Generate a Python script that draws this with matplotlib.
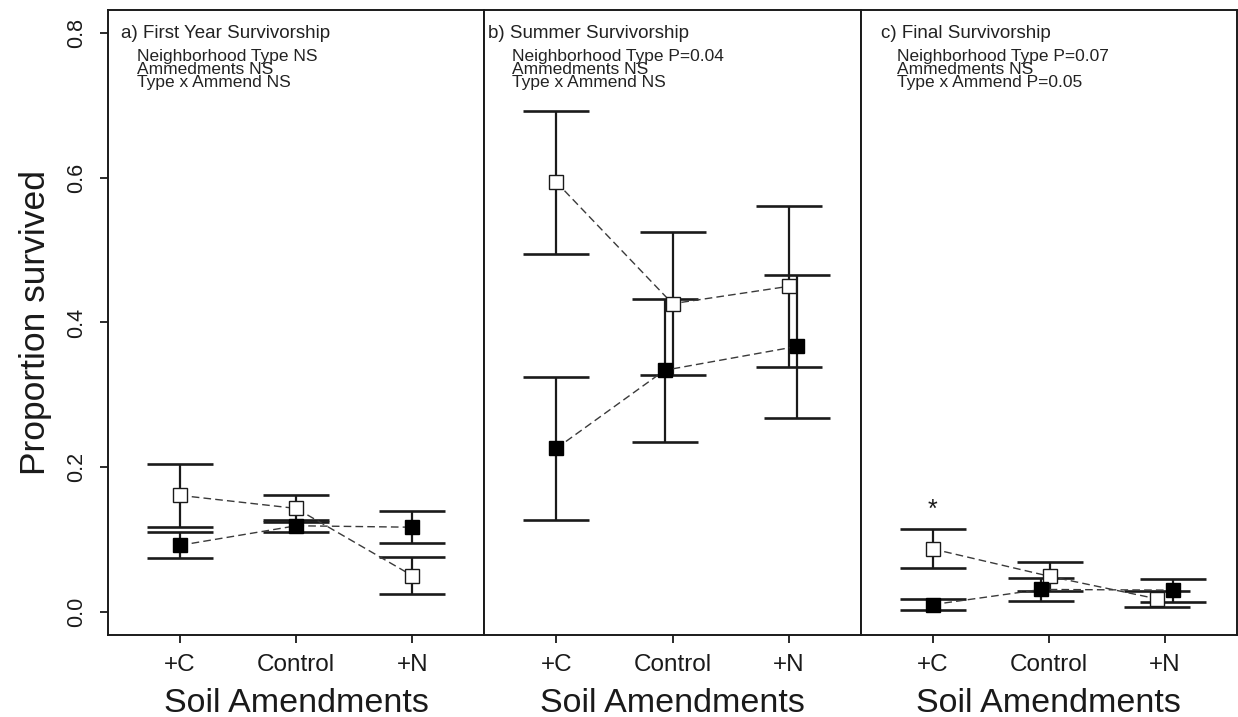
import matplotlib
matplotlib.use("Agg")
import matplotlib.pyplot as plt
import numpy as np

plt.rcParams["font.family"] = ["Liberation Sans", "DejaVu Sans"]

# ---- data -------------------------------------------------------------
amendments = ["+C", "Control", "+N"]
panel_titles = ["a) First Year Survivorship",
                "b) Summer Survivorship",
                "c) Final Survivorship"]
stats_lines = [
    ["Neighborhood Type NS", "Ammedments NS", "Type x Ammend NS"],
    ["Neighborhood Type P=0.04", "Ammedments NS", "Type x Ammend NS"],
    ["Neighborhood Type P=0.07", "Ammedments NS", "Type x Ammend P=0.05"],
]

# mean proportion survived and its standard error, per neighbourhood type
hollow_first = [0.161, 0.143, 0.050]
hollow_first_se = [0.044, 0.019, 0.026]
solid_first = [0.092, 0.119, 0.117]
solid_first_se = [0.018, 0.008, 0.022]

hollow_summer = [0.594, 0.426, 0.450]
hollow_summer_se = [0.099, 0.099, 0.111]
solid_summer = [0.226, 0.334, 0.367]
solid_summer_se = [0.099, 0.099, 0.099]

hollow_final = [0.087, 0.049, 0.018]
hollow_final_se = [0.027, 0.020, 0.011]
solid_final = [0.010, 0.031, 0.030]
solid_final_se = [0.008, 0.016, 0.016]

significant_final = [True, False, False]

# ---- layout ---------------------------------------------------------------
# horizontal nudges so overlapping error bars stay readable
hollow_nudge = [[0, 0, 0], [0, 0, 0], [0, 0.01, -0.07]]
solid_nudge = [[0, 0, 0], [0, -0.067, 0.073], [0, -0.067, 0.073]]
# text placement (pixels from the panel's left edge / figure top)
title_x = [12.7, 4.0, 20.7]
stats_x = [28.5, 28.0, 36.0]
title_y = 33
stats_y = [56, 70, 83]

W, H = 1238, 717
fig = plt.figure(figsize=(W / 100, H / 100), dpi=100)
left_px, right_px, top_px, bottom_px = 108, 1237, 10, 635
panel_w = (right_px - left_px) / 3
panel_h = bottom_px - top_px

ink = "#1a1a1a"
panels = [
    (hollow_first, hollow_first_se, solid_first, solid_first_se),
    (hollow_summer, hollow_summer_se, solid_summer, solid_summer_se),
    (hollow_final, hollow_final_se, solid_final, solid_final_se),
]

x = np.arange(1, len(amendments) + 1)
axes = []
for i, (hv, hse, sv, sse) in enumerate(panels):
    ax = fig.add_axes([(left_px + i * panel_w) / W, 1 - bottom_px / H,
                       panel_w / W, panel_h / H])
    axes.append(ax)
    xh = x + np.array(hollow_nudge[i])
    xs = x + np.array(solid_nudge[i])

    for xx, vv, ee in ((xh, hv, hse), (xs, sv, sse)):
        ax.errorbar(xx, vv, yerr=ee, fmt="none", ecolor=ink,
                    elinewidth=1.6, capsize=23.5, capthick=1.9, zorder=2)
    ax.plot(xh, hv, ls=(0, (5.5, 3)), color="#3a3a3a", lw=1.0, zorder=3)
    ax.plot(xs, sv, ls=(0, (5.5, 3)), color="#3a3a3a", lw=1.0, zorder=3)
    ax.plot(xh, hv, ls="none", marker="s", ms=10.5, mfc="white",
            mec=ink, mew=1.0, zorder=4)
    ax.plot(xs, sv, ls="none", marker="s", ms=10.5, mfc="black",
            mec="black", mew=1.0, zorder=4)

    ax.set_xlim(0.38, 3.62)
    ax.set_ylim(-0.032, 0.832)
    ax.set_xticks(x)
    ax.set_xticklabels(amendments, fontsize=17.5, color=ink)
    ax.tick_params(axis="x", direction="out", length=6, width=1.3,
                   pad=8, colors=ink)
    ax.set_xlabel("Soil Amendments", fontsize=24.5, color=ink, labelpad=8)
    for sp in ax.spines.values():
        sp.set_linewidth(1.4)
        sp.set_color(ink)

    if i == 0:
        ax.set_yticks([0.0, 0.2, 0.4, 0.6, 0.8])
        ax.set_yticklabels(["0.0", "0.2", "0.4", "0.6", "0.8"],
                           rotation=90, va="center", fontsize=15.5,
                           color=ink)
        ax.tick_params(axis="y", direction="out", length=6, width=1.3,
                       pad=9, colors=ink)
        ax.set_ylabel("Proportion survived", fontsize=25.5, color=ink,
                      labelpad=10)
    else:
        ax.set_yticks([])

    ax.text(title_x[i] / panel_w, (bottom_px - title_y) / panel_h,
            panel_titles[i], transform=ax.transAxes, fontsize=13.5,
            color="#222222", ha="left", va="center")
    for line, ly in zip(stats_lines[i], stats_y):
        ax.text(stats_x[i] / panel_w, (bottom_px - ly) / panel_h, line,
                transform=ax.transAxes, fontsize=12.5, color="#222222",
                ha="left", va="center")

# significance marker above the flagged error bars of the final census
ax = axes[2]
for k, flag in enumerate(significant_final):
    if flag:
        ax.text(x[k] + hollow_nudge[2][k],
                hollow_final[k] + hollow_final_se[k] + 0.027, "*",
                fontsize=18, color=ink, ha="center", va="center")

fig.savefig("out.png", dpi=100)
